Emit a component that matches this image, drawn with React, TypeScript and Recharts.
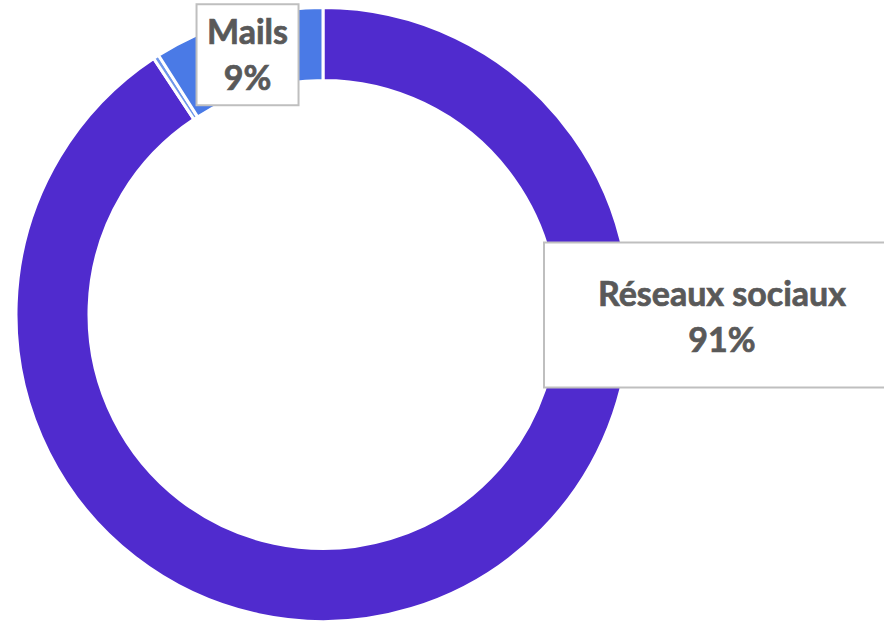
import { PieChart, Pie, Cell } from 'recharts';

const categories = ['Réseaux sociaux', 'Autres', 'Mails'];
const values = [90.7, 0.3, 9];
const percentLabels = ['91%', '', '9%'];
const colors = ['#502bce', '#6f96ea', '#4a7ae6'];

const data = categories.map((name, i) => ({ name, value: values[i], pct: percentLabels[i] }));

const RADIAN = Math.PI / 180;
const textStyle = {
  fontFamily: 'Lato, sans-serif',
  fontWeight: 700,
  fontSize: 34,
  fill: '#595959',
  stroke: '#595959',
  strokeWidth: 0.7,
};

function renderLabel(props: any) {
  const { cx, cy, midAngle, innerRadius, outerRadius, index, name, payload } = props;
  if (!payload.pct) return null;
  if (index === 0) {
    // big box to the right of the ring
    const x = cx + 221;
    const y = cy - 72;
    const w = 360;
    const h = 145;
    const tx = x + 178;
    return (
      <g>
        <rect x={x} y={y} width={w} height={h} fill="#ffffff" stroke="#bfbfbf" strokeWidth={2} />
        <text x={tx} y={cy - 9} textAnchor="middle" style={textStyle}>{name}</text>
        <text x={tx} y={cy + 37} textAnchor="middle" style={textStyle}>{payload.pct}</text>
      </g>
    );
  }
  const r = (innerRadius + outerRadius) / 2;
  const mx = cx + r * Math.cos(-midAngle * RADIAN);
  const my = cy + r * Math.sin(-midAngle * RADIAN);
  const w = 102;
  const h = 101;
  return (
    <g>
      <rect x={mx - w / 2} y={my - h / 2} width={w} height={h} fill="#ffffff" stroke="#bfbfbf" strokeWidth={2} />
      <text x={mx} y={my - 11} textAnchor="middle" style={textStyle}>{name}</text>
      <text x={mx} y={my + 35} textAnchor="middle" style={textStyle}>{payload.pct}</text>
    </g>
  );
}

export default function App() {
  return (
    <div style={{ position: 'absolute', left: 0, top: 0, width: 884, height: 624, background: '#ffffff' }}>
      <PieChart width={884} height={624} margin={{ top: 0, right: 0, bottom: 0, left: 0 }}>
        <Pie
          data={data}
          dataKey="value"
          nameKey="name"
          cx={323}
          cy={314.5}
          innerRadius={234}
          outerRadius={307}
          startAngle={90}
          endAngle={-270}
          stroke="#ffffff"
          strokeWidth={3}
          label={renderLabel}
          labelLine={false}
          isAnimationActive={false}
        >
          {data.map((d, i) => (
            <Cell key={d.name} fill={colors[i]} />
          ))}
        </Pie>
      </PieChart>
    </div>
  );
}
